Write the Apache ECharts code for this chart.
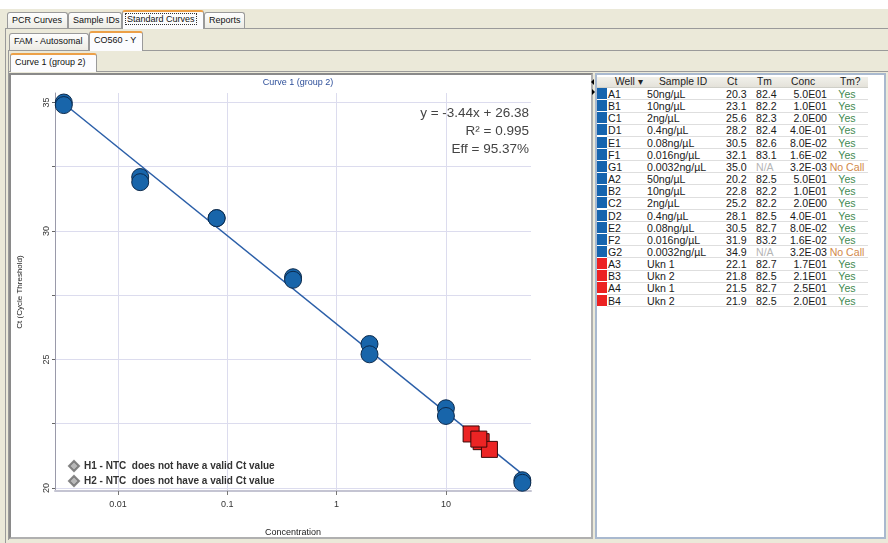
<!DOCTYPE html>
<html><head><meta charset="utf-8">
<script src="https://cdn.jsdelivr.net/npm/echarts@6/dist/echarts.min.js"></script>
<style>
html,body{margin:0;padding:0;}
body{width:888px;height:543px;position:relative;overflow:hidden;background:#ebe9d9;font-family:"Liberation Sans",Arial,sans-serif;font-size:10px;color:#1a1a1a;}
.a{position:absolute;box-sizing:border-box;}
.tab{position:absolute;box-sizing:border-box;border:1px solid #9a9a9a;border-bottom:none;background:linear-gradient(#fefefe,#ecebe4);font-size:9px;line-height:15px;padding:0 0 0 4px;white-space:nowrap;border-radius:3px 3px 0 0;color:#111;overflow:hidden;}
.tab.sel{background:#fcfcfe;border-top:2px solid #eca048;}
.cell{position:absolute;white-space:nowrap;line-height:12px;font-size:10.6px;}
#chart{position:absolute;left:0;top:0;width:888px;height:543px;z-index:10;}
</style></head>
<body>
<div class="a" style="left:0;top:0;width:888px;height:9px;background:#fff"></div>
<!-- tab row 1 -->
<div class="a" style="left:5px;top:28px;width:883px;height:515px;border-top:1px solid #9a9a9a;border-left:1px solid #9a9a9a;"></div>
<div class="tab" style="left:7px;top:12px;width:61px;height:16px">PCR Curves</div>
<div class="tab" style="left:68px;top:12px;width:54px;height:16px">Sample IDs</div>
<div class="tab sel" style="left:122px;top:10px;width:82px;height:19px;padding-left:3px"><span style="outline:1px dotted #333;padding:0 1px">Standard Curves</span></div>
<div class="tab" style="left:204px;top:12px;width:41px;height:16px">Reports</div>
<!-- tab row 2 -->
<div class="a" style="left:8px;top:50px;width:880px;height:490px;border-top:1px solid #9a9a9a;border-left:1px solid #9a9a9a;"></div>
<div class="tab" style="left:9px;top:33px;width:80px;height:17px">FAM - Autosomal</div>
<div class="tab sel" style="left:89px;top:31px;width:54px;height:20px">CO560 - Y</div>
<!-- tab row 3 -->
<div class="a" style="left:8px;top:71px;width:880px;height:1px;background:#9a9a9a"></div>
<div class="tab sel" style="left:10px;top:53px;width:87px;height:19px">Curve 1 (group 2)</div>
<!-- chart panel -->
<div class="a" style="left:9px;top:73px;width:584px;height:466px;background:#fff;border:2px solid;border-color:#8a8a8a #b0b0b0 #b0b0b0 #8a8a8a;"></div>
<!-- splitter arrows -->
<div class="a" style="left:591px;top:79px;width:0;height:0;border-top:3px solid transparent;border-bottom:3px solid transparent;border-right:3px solid #000"></div>
<div class="a" style="left:592px;top:89px;width:0;height:0;border-top:3px solid transparent;border-bottom:3px solid transparent;border-left:3px solid #000"></div>
<!-- table panel -->
<div class="a" id="tbl" style="left:595px;top:73px;width:291px;height:466px;background:#fff;border:2px solid #a9b9cf;"></div>
<div id="chart"></div>
<script>
// ---------- data ----------
const wells      = ['A1','B1','C1','D1','E1','F1','G1','A2','B2','C2','D2','E2','F2','G2','A3','B3','A4','B4'];
const sampleIds  = ['50ng/µL','10ng/µL','2ng/µL','0.4ng/µL','0.08ng/µL','0.016ng/µL','0.0032ng/µL',
                    '50ng/µL','10ng/µL','2ng/µL','0.4ng/µL','0.08ng/µL','0.016ng/µL','0.0032ng/µL',
                    'Ukn 1','Ukn 2','Ukn 1','Ukn 2'];
const ctValues   = [20.3,23.1,25.6,28.2,30.5,32.1,35.0, 20.2,22.8,25.2,28.1,30.5,31.9,34.9, 22.1,21.8,21.5,21.9];
const tmValues   = ['82.4','82.2','82.3','82.4','82.6','83.1','N/A','82.5','82.2','82.2','82.5','82.7','83.2','N/A','82.7','82.5','82.7','82.5'];
const concLabels = ['5.0E01','1.0E01','2.0E00','4.0E-01','8.0E-02','1.6E-02','3.2E-03',
                    '5.0E01','1.0E01','2.0E00','4.0E-01','8.0E-02','1.6E-02','3.2E-03',
                    '1.7E01','2.1E01','2.5E01','2.0E01'];
const tmCalls    = ['Yes','Yes','Yes','Yes','Yes','Yes','No Call','Yes','Yes','Yes','Yes','Yes','Yes','No Call','Yes','Yes','Yes','Yes'];
const wellTypes  = ['std','std','std','std','std','std','std','std','std','std','std','std','std','std','ukn','ukn','ukn','ukn'];
const headers    = ['Well ▾','Sample ID','Ct','Tm','Conc','Tm?'];
const slope = -3.44, intercept = 26.38, rSquared = 0.995, efficiency = 95.37;
const ntcNotes = ['H1 - NTC  does not have a valid Ct value','H2 - NTC  does not have a valid Ct value'];
const yTickValues  = [20,22.5,25,27.5,30,32.5,35];
const yLabelValues = [20,25,30,35];

// ---------- table ----------
function add(txt, style){const d=document.createElement('div');d.className='cell';d.style.cssText=style;d.textContent=txt;document.body.appendChild(d);return d;}
const hdr=document.createElement('div');hdr.className='a';hdr.style.cssText='left:597px;top:77px;width:271px;height:11px;background:linear-gradient(#f1f0ea,#e4e2da);border-bottom:1px solid #cfcfc8';document.body.appendChild(hdr);
const hdrPos=['left:615px','left:659px','left:727px','left:757px','left:791px','left:840px'];
headers.forEach((h,i)=>{add(h,hdrPos[i]+';top:76px;color:#222;z-index:2;font-size:10.3px');});
const typeColor={std:'#1664ae',ukn:'#ec2222'};
const callColor={'Yes':'#3f8a52','No Call':'#d2894a'};
wells.forEach((w,i)=>{
  const top = 88 + i*12.15;
  const sw=document.createElement('div');sw.className='a';
  sw.style.cssText=`left:597px;top:${top}px;width:10px;height:12px;background:${typeColor[wellTypes[i]]};border-bottom:1px solid #fff`;
  document.body.appendChild(sw);
  const ln=document.createElement('div');ln.className='a';
  ln.style.cssText=`left:607px;top:${top+11.4}px;width:261px;height:1px;background:#dedede`;
  document.body.appendChild(ln);
  add(w,`left:608px;top:${top}px`);
  add(sampleIds[i],`left:647px;top:${top}px`);
  add(ctValues[i].toFixed(1),`left:726px;top:${top}px`);
  add(tmValues[i],`left:756px;top:${top}px;color:${tmValues[i]==='N/A'?'#b5b5b5':'#1a1a1a'}`);
  add(concLabels[i],`left:767px;width:60px;text-align:right;top:${top}px`);
  add(tmCalls[i],`left:817px;width:60px;text-align:center;top:${top}px;color:${callColor[tmCalls[i]]}`);
});

// ---------- chart ----------
const conc = concLabels.map(Number);
const stdPoints=[], uknPoints=[];
wells.forEach((w,i)=>{ (wellTypes[i]==='std'?stdPoints:uknPoints).push([conc[i],ctValues[i]]); });
const stdConc = stdPoints.map(p=>p[0]);
const cMin = Math.min(...stdConc), cMax = Math.max(...stdConc);
const fitLine = [cMin,cMax].map(c=>[c, slope*Math.log10(c)+intercept]);

const chart = echarts.init(document.getElementById('chart'));
chart.setOption({
  animation:false,
  backgroundColor:'transparent',
  textStyle:{fontFamily:'"Liberation Sans", Arial, sans-serif'},
  grid:{left:55, top:93, width:476, height:398},
  xAxis:{
    type:'log', logBase:10, min:0.00266, max:60,
    name:'Concentration', nameLocation:'middle', nameGap:37,
    nameTextStyle:{fontSize:9,color:'#222'},
    axisLine:{show:true,onZero:false,lineStyle:{color:'#c4c4d2',width:2}},
    axisTick:{show:true,length:4,lineStyle:{color:'#777'}},
    axisLabel:{fontSize:9,color:'#333',margin:9,showMinLabel:false,showMaxLabel:false,
      formatter:v=>String(+(+v).toPrecision(6))},
    splitLine:{show:true,showMinLine:false,showMaxLine:false,lineStyle:{color:'#dcdcee',width:1}}
  },
  yAxis:{
    type:'value', min:19.88, max:35.37,
    name:'Ct (Cycle Threshold)', nameLocation:'middle', nameGap:31, nameRotate:90,
    nameTextStyle:{fontSize:8,color:'#222'},
    axisLine:{show:true,lineStyle:{color:'#9a9aaa',width:1}},
    axisTick:{show:true,length:3,customValues:yTickValues,lineStyle:{color:'#666'}},
    axisLabel:{rotate:90,fontSize:9,color:'#333',margin:4,customValues:yLabelValues},
    splitLine:{show:true,lineStyle:{color:'#dcdcee',width:1}}
  },
  legend:{
    data:ntcNotes.map(n=>({name:n,icon:'diamond'})),
    orient:'vertical', left:68, top:460, padding:0, itemWidth:10, itemHeight:10, itemGap:3,
    selectedMode:false,
    textStyle:{fontSize:10,fontWeight:'bold',color:'#333',fontFamily:'"Liberation Sans Narrow","Liberation Sans",Arial',lineHeight:12}
  },
  graphic:[
    {type:'text',x:298,y:83,style:{text:'Curve 1 (group 2)',font:'9px "Liberation Sans"',fill:'#2d4f9a',align:'center',verticalAlign:'middle'}},
    {type:'text',x:529,y:113,style:{text:`y = ${slope.toFixed(2)}x + ${intercept.toFixed(2)}`,font:'13.5px "Liberation Sans"',fill:'#444',align:'right',verticalAlign:'middle'}},
    {type:'text',x:529,y:131,style:{text:`R² = ${rSquared.toFixed(3)}`,font:'13.5px "Liberation Sans"',fill:'#444',align:'right',verticalAlign:'middle'}},
    {type:'text',x:529,y:149,style:{text:`Eff = ${efficiency.toFixed(2)}%`,font:'13.5px "Liberation Sans"',fill:'#444',align:'right',verticalAlign:'middle'}}
  ],
  series:[
    {type:'line',data:fitLine,symbol:'none',lineStyle:{color:'#2b5fa8',width:1.5},z:1,silent:true},
    {type:'scatter',name:'Standards',data:stdPoints,symbol:'circle',symbolSize:17,
      itemStyle:{color:'#1865aa',borderColor:'#0c2a4c',borderWidth:1,opacity:1},z:3},
    {type:'scatter',name:'Unknowns',data:uknPoints,symbol:'rect',symbolSize:16,
      itemStyle:{color:'#ec2424',borderColor:'#3a0808',borderWidth:1,opacity:1},z:4},
    {type:'scatter',name:ntcNotes[0],data:[],itemStyle:{color:'#a8a8a8',borderColor:'#6a6a6a',borderWidth:1}},
    {type:'scatter',name:ntcNotes[1],data:[],itemStyle:{color:'#a8a8a8',borderColor:'#6a6a6a',borderWidth:1}}
  ]
});
</script>
</body></html>
